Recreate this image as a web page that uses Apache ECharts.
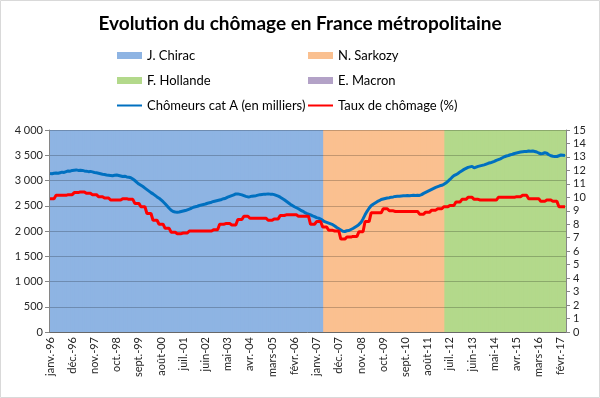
<!DOCTYPE html>
<html>
<head>
<meta charset="utf-8">
<script src="https://cdn.jsdelivr.net/npm/echarts@6/dist/echarts.min.js"></script>
<style>
html, body { margin: 0; padding: 0; background: #fff; }
#chart { width: 600px; height: 398px; }
</style>
</head>
<body>
<div id="chart"></div>
<script>
// Mois : janv. 1996 -> avr. 2017
var moisAbr = ['janv.', 'févr.', 'mars', 'avr.', 'mai', 'juin', 'juil.', 'août', 'sept.', 'oct.', 'nov.', 'déc.'];
var anneeDebut = 1996;
var nbMois = 256;

// Demandeurs d'emploi cat A (milliers), mensuel
var chomeurs = [
  3140, 3135, 3145, 3150, 3145, 3155, 3165, 3160, 3175, 3190, 3185, 3200,
  3205, 3210, 3200, 3205, 3200, 3190, 3185, 3175, 3180, 3170, 3160, 3155,
  3145, 3135, 3125, 3120, 3110, 3105, 3100, 3095, 3105, 3110, 3100, 3090,
  3080, 3085, 3070, 3065, 3055, 3030, 3000, 2965, 2930, 2905, 2880, 2850,
  2820, 2790, 2760, 2735, 2705, 2675, 2650, 2615, 2580, 2540, 2495, 2450,
  2410, 2385, 2375, 2370, 2375, 2385, 2395, 2405, 2420, 2435, 2450, 2470,
  2480, 2490, 2505, 2515, 2525, 2535, 2550, 2560, 2570, 2585, 2595, 2605,
  2615, 2625, 2640, 2650, 2670, 2685, 2700, 2715, 2735, 2735, 2725, 2715,
  2700, 2685, 2675, 2680, 2690, 2695, 2700, 2710, 2720, 2725, 2730, 2730,
  2735, 2730, 2730, 2720, 2705, 2690, 2670, 2645, 2620, 2590, 2560, 2530,
  2505, 2480, 2460, 2440, 2415, 2395, 2370, 2350, 2335, 2320, 2300, 2285,
  2265, 2255, 2235, 2210, 2185, 2170, 2155, 2140, 2125, 2100, 2070, 2045,
  2020, 1995, 1990, 2005, 2010, 2030, 2050, 2075, 2100, 2130, 2170, 2240,
  2320, 2390, 2450, 2500, 2530, 2555, 2580, 2600, 2625, 2635, 2645, 2655,
  2660, 2670, 2675, 2685, 2690, 2690, 2695, 2700, 2700, 2705, 2700, 2705,
  2710, 2705, 2710, 2705, 2720, 2745, 2765, 2785, 2805, 2825, 2845, 2865,
  2880, 2895, 2905, 2925, 2950, 2985, 3020, 3060, 3095, 3115, 3140, 3170,
  3195, 3220, 3240, 3260, 3270, 3280, 3250, 3265, 3280, 3290, 3300, 3310,
  3325, 3340, 3350, 3365, 3380, 3400, 3415, 3430, 3450, 3470, 3485, 3495,
  3510, 3520, 3535, 3545, 3555, 3565, 3570, 3575, 3575, 3585, 3580, 3585,
  3575, 3565, 3545, 3530, 3535, 3550, 3540, 3510, 3490, 3480, 3475, 3475,
  3490, 3505, 3500, 3495
];

// Taux de chômage (%), trimestriel (T1 1996 -> T2 2017)
var tauxTrim = [
  9.9, 10.15, 10.15, 10.2, 10.35, 10.4, 10.3, 10.2, 10.05, 9.95,
  9.8, 9.8, 9.9, 9.85, 9.55, 9.3, 8.8, 8.3, 8.0, 7.7,
  7.4, 7.3, 7.35, 7.5, 7.5, 7.5, 7.5, 7.6, 8.0, 8.05,
  7.95, 8.35, 8.6, 8.45, 8.45, 8.45, 8.3, 8.4, 8.65, 8.7,
  8.7, 8.6, 8.6, 8.0, 8.2, 7.8, 7.55, 7.5, 6.9, 7.05,
  7.1, 7.45, 8.2, 8.85, 8.85, 9.15, 9.0, 8.95, 8.95, 8.95,
  8.95, 8.75, 8.9, 9.05, 9.15, 9.3, 9.4, 9.65, 9.85, 10.0,
  9.85, 9.8, 9.8, 9.8, 10.0, 10.0, 10.0, 10.05, 10.15, 9.9,
  9.9, 9.7, 9.8, 9.7, 9.3, 9.3
];

// Mandats : index du premier mois de chaque président
var presidents = ['J. Chirac', 'N. Sarkozy', 'F. Hollande', 'E. Macron'];
var debutMandat = [0, 136, 196, 256];
var couleursMandat = ['#8EB4E3', '#FAC090', '#B3D98B', '#B3A2C7'];

var leftMax = 4000;

var mois = [];
for (var i = 0; i < nbMois; i++) {
  var an = (anneeDebut + Math.floor(i / 12)) % 100;
  mois.push(moisAbr[i % 12] + '-' + (an < 10 ? '0' + an : an));
}

var taux = [];
for (var i = 0; i < nbMois; i++) {
  taux.push(tauxTrim[Math.floor(i / 3)]);
}

var series = [];
presidents.forEach(function (nom, p) {
  var fin = p + 1 < debutMandat.length ? debutMandat[p + 1] : Infinity;
  var d = [];
  for (var i = 0; i < nbMois; i++) {
    d.push(i >= debutMandat[p] && i < fin ? leftMax : '-');
  }
  series.push({
    name: nom,
    type: 'bar',
    data: d,
    barWidth: 3,
    barGap: '-100%',
    itemStyle: { color: couleursMandat[p] },
    silent: true,
    z: 1
  });
});

series.push({
  name: 'Chômeurs cat A (en milliers)',
  type: 'line',
  data: chomeurs,
  yAxisIndex: 0,
  showSymbol: false,
  symbol: 'none',
  lineStyle: { color: '#0070C0', width: 3 },
  itemStyle: { color: '#0070C0' },
  z: 5
});
series.push({
  name: 'Taux de chômage (%)',
  type: 'line',
  data: taux,
  yAxisIndex: 1,
  showSymbol: false,
  symbol: 'none',
  lineStyle: { color: '#FF0000', width: 3 },
  itemStyle: { color: '#FF0000' },
  z: 5
});

var police = 'Lato';
var myChart = echarts.init(document.getElementById('chart'));

var legendCommon = {
  orient: 'vertical',
  top: 43,
  itemWidth: 25,
  itemHeight: 7,
  itemGap: 10,
  textStyle: { fontSize: 13, color: '#000', lineHeight: 15 }
};

myChart.setOption({
  animation: false,
  textStyle: { fontFamily: police },
  title: {
    text: 'Evolution du chômage en France métropolitaine',
    left: 'center',
    top: 9,
    textStyle: { fontSize: 19, fontWeight: 'bold', color: '#000', fontFamily: police }
  },
  legend: [
    Object.assign({}, legendCommon, {
      left: 111,
      data: [
        { name: 'J. Chirac', icon: 'rect' },
        { name: 'F. Hollande', icon: 'rect' },
        { name: 'Chômeurs cat A (en milliers)', itemStyle: { opacity: 0 } }
      ]
    }),
    Object.assign({}, legendCommon, {
      left: 302,
      data: [
        { name: 'N. Sarkozy', icon: 'rect' },
        { name: 'E. Macron', icon: 'rect' },
        { name: 'Taux de chômage (%)', itemStyle: { opacity: 0 } }
      ]
    })
  ],
  grid: { left: 49, right: 34, top: 130, bottom: 66 },
  xAxis: {
    type: 'category',
    data: mois,
    boundaryGap: true,
    axisLine: { lineStyle: { color: '#868686' } },
    axisTick: { interval: 10, length: 4, lineStyle: { color: '#868686' } },
    axisLabel: { interval: 10, rotate: 90, fontSize: 11, color: '#262626', margin: 5 },
    splitLine: { show: false }
  },
  yAxis: [
    {
      type: 'value',
      min: 0,
      max: leftMax,
      interval: 500,
      z: 3,
      axisLine: { show: true, lineStyle: { color: '#868686' } },
      axisTick: { show: true, length: 4, lineStyle: { color: '#868686' } },
      axisLabel: {
        fontSize: 11,
        color: '#262626',
        margin: 6,
        formatter: function (v) {
          if (v < 1000) return String(v);
          var r = v % 1000;
          return Math.floor(v / 1000) + ' ' + (r < 10 ? '00' + r : r < 100 ? '0' + r : r);
        }
      },
      splitLine: { show: true, lineStyle: { color: 'rgba(0,0,0,0.22)', width: 1 } }
    },
    {
      type: 'value',
      min: 0,
      max: 15,
      interval: 1,
      z: 3,
      axisLine: { show: true, lineStyle: { color: '#868686' } },
      axisTick: { show: true, length: 4, lineStyle: { color: '#868686' } },
      axisLabel: { fontSize: 11, color: '#262626', margin: 7 },
      splitLine: { show: false }
    }
  ],
  graphic: [
    {
      type: 'rect',
      shape: { x: 0.5, y: 0.5, width: 599, height: 397 },
      style: { fill: 'none', stroke: '#D9D9D9', lineWidth: 1 },
      silent: true
    }
  ],
  series: series
});
</script>
</body>
</html>
